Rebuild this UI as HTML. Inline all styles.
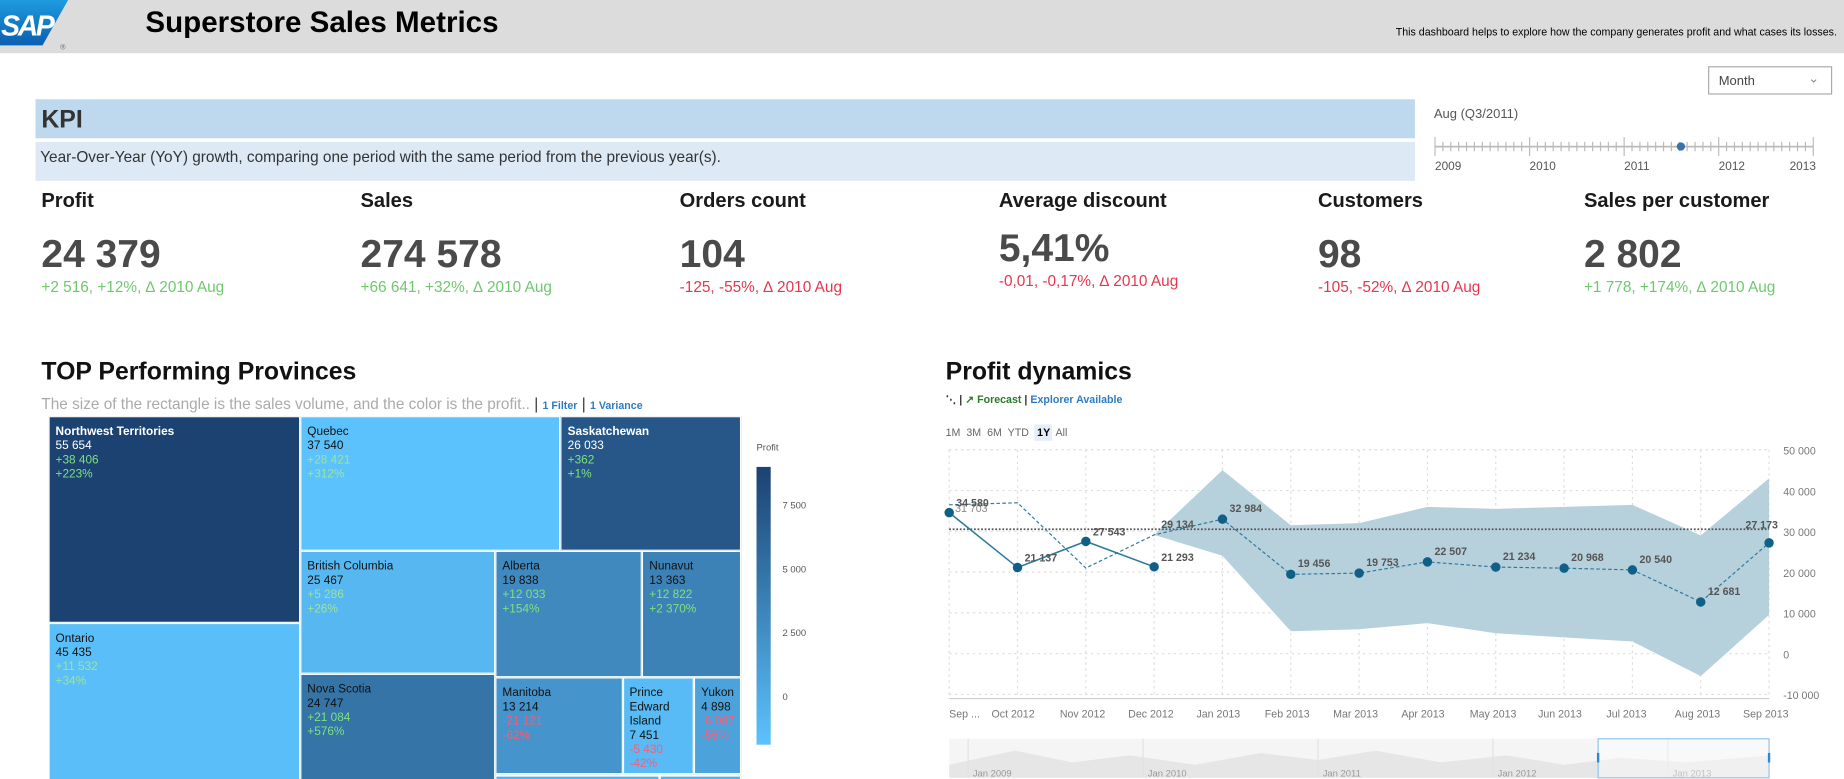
<!DOCTYPE html>
<html><head><meta charset="utf-8">
<style>
html,body{margin:0;padding:0;width:1844px;height:779px;overflow:hidden;background:#fff;font-family:"Liberation Sans",sans-serif;}
#wrap{position:absolute;left:0;top:0;width:1560px;height:659px;transform:scale(1.18205);transform-origin:0 0;overflow:hidden;}
.abs{position:absolute;white-space:nowrap;}
.kt{font-size:17px;font-weight:bold;color:#1a1a1a;}
.kv{font-size:33px;font-weight:bold;color:#4a4a4a;}
.kd{font-size:13px;}
.g{color:#6cc96c}.r{color:#e8344e}
.tm{position:absolute;box-sizing:border-box;border:1px solid #fff;font-size:10px;line-height:12px;padding:7px 5px;overflow:hidden;}
</style></head><body>
<div id="wrap">
<div class="abs" style="left:0;top:0;width:1560px;height:45px;background:#dcdcdc;"></div>
<svg class="abs" style="left:0;top:0" width="70" height="45">
<defs><linearGradient id="lg" x1="0" y1="0" x2="0" y2="1"><stop offset="0" stop-color="#1e9be0"/><stop offset="1" stop-color="#0a5fb0"/></linearGradient></defs>
<polygon points="0,0 96,0 60,48 0,48" fill="url(#lg)" transform="scale(0.6,0.8)"/>
<text x="1" y="30" fill="#fff" font-family="Liberation Sans" font-weight="bold" font-style="italic" font-size="24" letter-spacing="-2">SAP</text>
<text x="51" y="42" fill="#666" font-size="6">®</text></svg>
<div class="abs" style="left:123px;top:5px;font-size:25px;font-weight:bold;color:#000;">Superstore Sales Metrics</div>
<div class="abs" style="right:6px;top:22px;font-size:9px;color:#000;">This dashboard helps to explore how the company generates profit and what cases its losses.</div>

<div class="abs" style="left:1445px;top:56px;width:105px;height:24px;border:1px solid #aaa;box-sizing:border-box;font-size:11px;color:#444;padding:6px 0 0 8px;">Month<span style="position:absolute;right:10px;top:3px;color:#888;font-size:11px;">&#8964;</span></div>

<div class="abs" style="left:30px;top:84px;width:1167px;height:33px;background:#bed8ee;"><span style="position:absolute;left:5px;top:6px;font-size:21px;font-weight:bold;color:#333;">KPI</span></div>
<div class="abs" style="left:30px;top:120px;width:1167px;height:33px;background:#dde9f5;"><span style="position:absolute;left:4px;top:5px;font-size:13px;color:#333;">Year-Over-Year (YoY) growth, comparing one period with the same period from the previous year(s).</span></div>

<div class="abs" style="left:1213px;top:91px;font-size:11px;color:#555;">Aug (Q3/2011)</div>
<svg class="abs" style="left:1210px;top:112px" width="330" height="36" id="slider"></svg>

<div id="kpis"></div>

<div class="abs" style="left:35px;top:303px;font-size:21px;font-weight:bold;color:#111;">TOP Performing Provinces</div>
<div class="abs" style="left:35px;top:334px;font-size:13px;color:#aaa;">The size of the rectangle is the sales volume, and the color is the profit.. <span style="color:#333">|</span> <span style="color:#2f7cc2;font-size:9px;font-weight:bold">1 Filter</span> <span style="color:#333">|</span> <span style="color:#2f7cc2;font-size:9px;font-weight:bold">1 Variance</span></div>
<div id="treemap" class="abs" style="left:41px;top:352px;width:586px;height:318px;"></div>
<svg id="legend" class="abs" style="left:630px;top:370px" width="60" height="270"></svg>

<div class="abs" style="left:800px;top:303px;font-size:21px;font-weight:bold;color:#111;">Profit dynamics</div>
<div class="abs" style="left:800px;top:333px;font-size:9px;font-weight:bold;"><span style="color:#333">⋱ |</span> <span style="color:#2a7a2a">↗ Forecast</span> <span style="color:#333">|</span> <span style="color:#2f7cc2">Explorer Available</span></div>
<div class="abs" style="left:800px;top:361px;font-size:9px;color:#666;">
<span>1M</span>&nbsp; <span>3M</span>&nbsp; <span>6M</span>&nbsp; <span>YTD</span>&nbsp; <span style="background:#e5eef8;color:#000;font-weight:bold;padding:2px 2px">1Y</span>&nbsp;<span>All</span></div>
<svg id="chart" class="abs" style="left:790px;top:370px" width="770" height="289"></svg>
</div>

<script>
// ---------- KPI data ----------
const kpiTitles=["Profit","Sales","Orders count","Average discount","Customers","Sales per customer"];
const kpiValues=["24 379","274 578","104","5,41%","98","2 802"];
const kpiDeltas=["+2 516, +12%, ∆ 2010 Aug","+66 641, +32%, ∆ 2010 Aug","-125, -55%, ∆ 2010 Aug","-0,01, -0,17%, ∆ 2010 Aug","-105, -52%, ∆ 2010 Aug","+1 778, +174%, ∆ 2010 Aug"];
const kpiLeft=[35,305,575,845,1115,1340];
const kpiBox=document.getElementById('kpis');
kpiTitles.forEach((t,i)=>{
  const d=document.createElement('div');d.className='abs';d.style.left=kpiLeft[i]+'px';d.style.top='160px';
  
  
  const off=i===3?-5:0;
  d.innerHTML='<div class="kt" style="position:absolute;top:0">'+t+'</div><div class="kv" style="position:absolute;top:'+(36+off)+'px">'+kpiValues[i]+'</div><div class="kd '+(kpiDeltas[i][0]==='+'?'g':'r')+'" style="position:absolute;top:'+(75+off)+'px">'+kpiDeltas[i]+'</div>';
  kpiBox.appendChild(d);
});
// ---------- slider ----------
const sliderYears=["2009","2010","2011","2012","2013"];
const sliderPos=2.6;
(function(){
  const s=document.getElementById('slider');
  const x0=4,x1=324,w=(x1-x0)/(sliderYears.length-1);
  let h='<line x1="'+x0+'" y1="12" x2="'+x1+'" y2="12" stroke="#bbb" stroke-width="1.5"/>';
  for(let m=0;m<=48;m++){const x=x0+m*w/12;const big=m%12===0;h+='<line x1="'+x+'" x2="'+x+'" y1="'+(big?4:8)+'" y2="'+(big?20:16)+'" stroke="#bbb"/>';}
  sliderYears.forEach((y,i)=>{h+='<text x="'+(x0+i*w-(i===4?20:0))+'" y="32" font-size="10" fill="#555">'+y+'</text>';});
  h+='<circle cx="'+(x0+sliderPos*w)+'" cy="12" r="3.5" fill="#3a73a8"/>';
  s.innerHTML=h;
})();
// ---------- treemap ----------
const provNames=["Northwest Territories","Ontario","Quebec","Saskatchewan","British Columbia","Nova Scotia","Alberta","Nunavut","Manitoba","Prince Edward Island","Yukon","New Brunswick","Newfoundland"];
const provSales=[55654,45435,37540,26033,25467,24747,19838,13363,13214,7451,4898,3000,1500];
const provDelta=["+38 406","+11 532","+28 421","+362","+5 286","+21 084","+12 033","+12 822","-21 121","-5 430","-6 087","",""];
const provPct=["+223%","+34%","+312%","+1%","+26%","+576%","+154%","+2 370%","-62%","-42%","-55%","",""];
const provProfit=[9000,300,0,7500,800,5500,4000,4500,3200,500,2200,1000,1000];
const sumS=n=>typeof n==='number'?provSales[n]:n.c.reduce((a,c)=>a+sumS(c),0);
const tree={d:'H',c:[{d:'V',c:[0,1]},{d:'V',c:[{d:'H',c:[2,3]},{d:'H',c:[{d:'V',c:[4,5]},{d:'V',c:[{d:'H',c:[6,7]},{d:'H',c:[8,9,10]},{d:'H',c:[11,12]}]}]}]}]};
function colorFor(p){const t=Math.max(0,Math.min(1,p/9000));const a=[92,194,253],b=[27,66,113];return 'rgb('+a.map((v,i)=>Math.round(v+(b[i]-v)*t)).join(',')+')';}
const tm=document.getElementById('treemap');
function layout(n,x,y,w,h){
  if(typeof n==='number'){
    const d=document.createElement('div');d.className='tm';
    
    
    d.style.cssText+='left:'+x+'px;top:'+y+'px;width:'+w+'px;height:'+h+'px;background:'+colorFor(provProfit[n])+';';
    const dark=provProfit[n]>6000;d.style.color=dark?'#fff':'#111';
    const dc=provDelta[n][0]==='-'?'#ff5a72':(provProfit[n]<1000?'#9be59b':'#7ee27e');
    let name=provNames[n];if(w<70)name=name.replace(/ /g,'<br>');
    d.innerHTML='<div style="font-weight:'+(dark?'bold':'normal')+'">'+name+'</div><div>'+provSales[n].toLocaleString('fr-FR').replace(/\u202f|\u00a0/g,' ')+'</div><div style="color:'+dc+'">'+provDelta[n]+'</div><div style="color:'+dc+'">'+provPct[n]+'</div>';
    tm.appendChild(d);return;}
  const tot=sumS(n);let o=0;
  n.c.forEach(c=>{const f=sumS(c)/tot;
    if(n.d==='H'){layout(c,x+o,y,w*f,h);o+=w*f;}else{layout(c,x,y+o,w,h*f);o+=h*f;}});
}
layout(tree,0,0,586,318);
// legend
const legendTicks=[0,2500,5000,7500];
(function(){const s=document.getElementById('legend');
  const top=25,bot=260,vTop=9000,vBot=-1900;const ly=v=>top+(vTop-v)/(vTop-vBot)*(bot-top);
  let h='<defs><linearGradient id="lgd" x1="0" y1="0" x2="0" y2="1"><stop offset="0" stop-color="'+colorFor(9000)+'"/><stop offset="1" stop-color="'+colorFor(-500)+'"/></linearGradient></defs>';
  h+='<text x="10" y="11" font-size="8" fill="#555">Profit</text><rect x="10" y="'+top+'" width="12" height="'+(bot-top)+'" fill="url(#lgd)"/>';
  legendTicks.forEach(t=>{h+='<text x="32" y="'+(ly(t)+3)+'" font-size="8" fill="#555">'+(t===0?'0':t.toLocaleString('fr-FR').replace(/\u202f|\u00a0/g,' '))+'</text>';});
  s.innerHTML=h;})();
// ---------- profit chart ----------
const months=["Sep ...","Oct 2012","Nov 2012","Dec 2012","Jan 2013","Feb 2013","Mar 2013","Apr 2013","May 2013","Jun 2013","Jul 2013","Aug 2013","Sep 2013"];
const actual=[34580,21137,27543,21293];
const compare=[36500,37000,21000,29134,32984,19456,19753,22507,21234,20968,20540,12681,27173];
const compareLabels=["31 703","","","29 134","32 984","19 456","19 753","22 507","21 234","20 968","20 540","12 681","27 173"];
const actualLabels=["34 580","21 137","27 543","21 293"];
const bandStart=3;
const bandUpper=[29134,45000,31500,32000,36000,35500,36000,36500,29000,43000];
const bandLower=[29134,24000,5500,6000,7500,5000,4000,3000,-5500,9500];
const refLine=30500;
const yTicks=[50000,40000,30000,20000,10000,0,-10000];
const navYears=["Jan 2009","Jan 2010","Jan 2011","Jan 2012","Jan 2013"];
(function(){
  const s=document.getElementById('chart');const ox=790,oy=370;
  const X=i=>803-ox+i*57.8;const Y=v=>553-oy-v*0.00345;
  let h='';
  yTicks.forEach(t=>{h+='<line x1="'+X(0)+'" x2="'+X(12)+'" y1="'+Y(t)+'" y2="'+Y(t)+'" stroke="#ddd" stroke-dasharray="2,3"/>';
    h+='<text x="'+(X(12)+12)+'" y="'+(Y(t)+4)+'" font-size="9" fill="#777">'+t.toLocaleString('fr-FR').replace(/\u202f|\u00a0/g,' ')+'</text>';});
  months.forEach((m,i)=>{h+='<line x1="'+X(i)+'" x2="'+X(i)+'" y1="'+Y(50000)+'" y2="'+Y(-11000)+'" stroke="#ddd" stroke-dasharray="2,3"/>';
    h+='<text x="'+(i===0?X(i):X(i)-22)+'" y="'+(Y(-11000)+16)+'" font-size="9" fill="#777">'+m+'</text>';});
  h+='<line x1="'+X(0)+'" x2="'+X(12)+'" y1="'+Y(-11000)+'" y2="'+Y(-11000)+'" stroke="#ccc"/>';
  let up=bandUpper.map((v,k)=>X(bandStart+k)+','+Y(v)).join(' ');
  let lo=bandLower.map((v,k)=>X(bandStart+k)+','+Y(v)).reverse().join(' ');
  h+='<polygon points="'+up+' '+lo+'" fill="#b6d1dc"/>';
  h+='<line x1="'+X(0)+'" x2="'+X(12)+'" y1="'+Y(refLine)+'" y2="'+Y(refLine)+'" stroke="#555" stroke-dasharray="1.5,1.5" stroke-width="1.5"/>';
  h+='<polyline points="'+compare.map((v,i)=>X(i)+','+Y(v)).join(' ')+'" fill="none" stroke="#2d7a9e" stroke-dasharray="3,2"/>';
  h+='<polyline points="'+actual.map((v,i)=>X(i)+','+Y(v)).join(' ')+'" fill="none" stroke="#2d7a9e" stroke-width="1.3"/>';
  compare.forEach((v,i)=>{if(i>=4){h+='<circle cx="'+X(i)+'" cy="'+Y(v)+'" r="4" fill="#0f5f86"/>';}
    if(compareLabels[i])h+='<text x="'+(X(i)+(i===12?-20:(i===0?5:6)))+'" y="'+(Y(v)+(i===0?6:(i===12?-12:-6)))+'" font-size="9" font-weight="'+(i===0?'normal':'bold')+'" fill="'+(i===0?'#888':'#555')+'">'+compareLabels[i]+'</text>';});
  actual.forEach((v,i)=>{h+='<circle cx="'+X(i)+'" cy="'+Y(v)+'" r="4" fill="#0f5f86"/>';
    h+='<text x="'+(X(i)+6)+'" y="'+(Y(v)-5)+'" font-size="9" font-weight="bold" fill="#555">'+actualLabels[i]+'</text>';});
  // navigator
  const ny=625-oy,nh=33;const a=X(0),b=X(12);
  h+='<rect x="'+a+'" y="'+ny+'" width="'+(b-a)+'" height="'+nh+'" fill="#f5f5f5"/>';
  const pts=[[0,22],[0.08,10],[0.15,20],[0.22,14],[0.3,22],[0.38,12],[0.45,18],[0.52,10],[0.6,20],[0.68,14],[0.75,22],[0.82,16],[0.9,20],[1,14]];
  h+='<path d="M'+a+','+(ny+nh)+' '+pts.map(p=>'L'+(a+p[0]*(b-a))+','+(ny+p[1])).join(' ')+' L'+b+','+(ny+nh)+' Z" fill="#e6e6e6"/>';
  navYears.forEach((y,i)=>{const x=a+20+i*148;h+='<line x1="'+(x-4)+'" x2="'+(x-4)+'" y1="'+ny+'" y2="'+(ny+nh)+'" stroke="#e2e2e2"/><text x="'+x+'" y="'+(ny+nh-1)+'" font-size="8" fill="#999">'+y+'</text>';});
  h+='<rect x="'+(1352-ox)+'" y="'+ny+'" width="'+(b-(1352-ox))+'" height="'+nh+'" fill="rgba(255,255,255,0.4)" stroke="#8cc4ee"/>';
  h+='<rect x="'+(1351-ox)+'" y="'+(ny+12)+'" width="2" height="8" fill="#2a88d8"/><rect x="'+(b-1)+'" y="'+(ny+12)+'" width="2" height="8" fill="#2a88d8"/>';
  s.innerHTML=h;
})();
</script>
</body></html>
